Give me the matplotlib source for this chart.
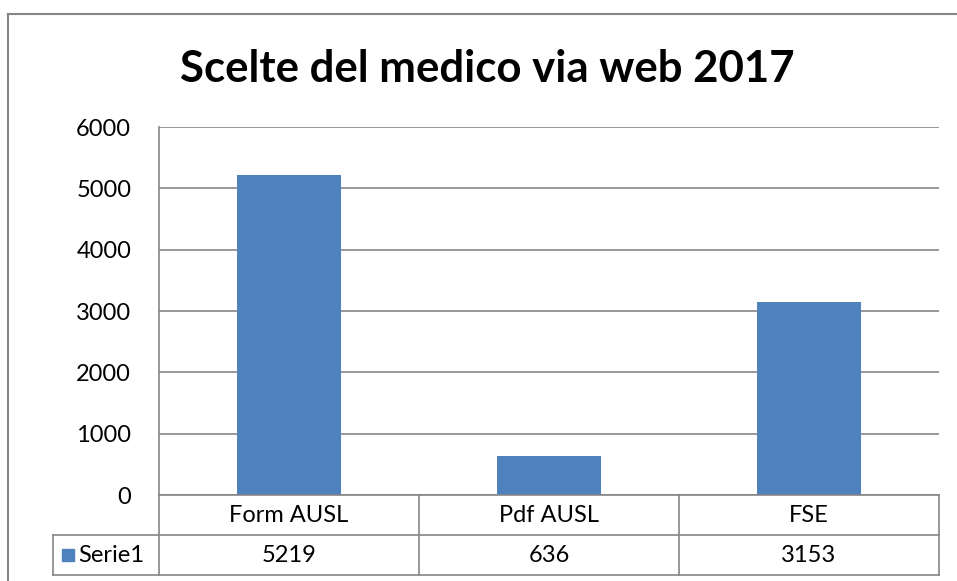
import matplotlib.pyplot as plt
from matplotlib.lines import Line2D
from matplotlib.patches import Rectangle

# dati
categorie = ['Form AUSL', 'Pdf AUSL', 'FSE']
valori = [5219, 636, 3153]
serie = 'Serie1'
titolo = 'Scelte del medico via web 2017'

plt.rcParams['font.family'] = ['Lato', 'DejaVu Sans']

W, H = 957, 581
fig = plt.figure(figsize=(W / 100, H / 100), dpi=100)

# area grafico (in pixel del riferimento)
left, right, top, bottom = 159, 939, 127, 495
ax = fig.add_axes([left / W, (H - bottom) / H, (right - left) / W, (bottom - top) / H])

blu = '#4F81BD'
grigio = '#868686'
fs = 17

x = list(range(len(categorie)))
ax.bar(x, valori, width=0.4, color=blu, zorder=3)
ax.set_xlim(-0.5, len(categorie) - 0.5)
ax.set_ylim(0, 6000)
ax.set_yticks(range(0, 6001, 1000))
ax.tick_params(axis='y', length=0, labelsize=fs, pad=20)
ax.set_xticks([])
ax.grid(axis='y', color=grigio, linewidth=1.2, zorder=0)
for s in ['top', 'right', 'bottom']:
    ax.spines[s].set_visible(False)
ax.spines['left'].set_color(grigio)
ax.spines['left'].set_linewidth(1.2)

# tabella dati sotto il grafico
tr = ax.get_xaxis_transform()
row_h = 40 / (bottom - top)
lab_left = -106 / (right - left)  # cella legenda, frazione assi
lw = 1.2
for i in range(len(categorie) + 1):
    xb = i - 0.5
    ax.add_line(Line2D([xb, xb], [0, -2 * row_h], transform=tr, color=grigio, lw=lw, clip_on=False))
for yy in [-row_h, -2 * row_h]:
    ax.add_line(Line2D([lab_left, 1], [yy, yy], transform=ax.transAxes, color=grigio, lw=lw, clip_on=False))
ax.add_line(Line2D([0, 1], [0, 0], transform=ax.transAxes, color=grigio, lw=lw, clip_on=False, zorder=4))
ax.add_line(Line2D([lab_left, lab_left], [-row_h, -2 * row_h], transform=ax.transAxes,
                   color=grigio, lw=lw, clip_on=False))

for i, (c, v) in enumerate(zip(categorie, valori)):
    ax.text(i, -0.5 * row_h, c, transform=tr, ha='center', va='center', fontsize=fs)
    ax.text(i, -1.5 * row_h, str(v), transform=tr, ha='center', va='center', fontsize=fs)

# chiave legenda
px = 1 / (right - left)
py = 1 / (bottom - top)
ax.add_patch(Rectangle((lab_left + 9 * px, -1.5 * row_h - 6 * py), 12 * px, 12 * py,
                       transform=ax.transAxes, color=blu, clip_on=False))
ax.text(lab_left + 25 * px, -1.5 * row_h, serie, transform=ax.transAxes,
        ha='left', va='center', fontsize=fs)

# titolo
fig.text(487 / W, 1 - 69 / H, titolo, ha='center', va='center', fontsize=31.5, fontweight='bold')

# bordo area grafico
fig.add_artist(Line2D([8 / W, 8 / W], [0, 1 - 14 / H], transform=fig.transFigure, color=grigio, lw=1.5))
fig.add_artist(Line2D([8 / W, 1], [1 - 14 / H, 1 - 14 / H], transform=fig.transFigure, color=grigio, lw=1.5))

fig.savefig('out.png', dpi=100)
